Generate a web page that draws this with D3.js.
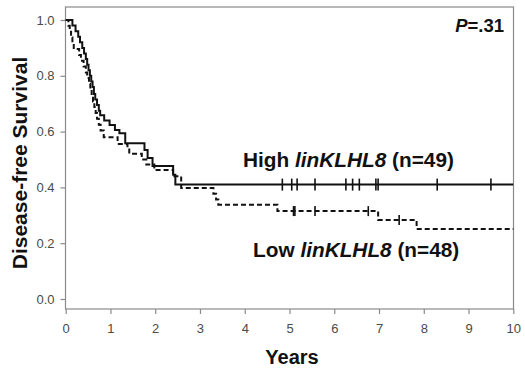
<!DOCTYPE html>
<html>
<head>
<meta charset="utf-8">
<script src="https://cdn.jsdelivr.net/npm/d3@7"></script>
<style>
  body { margin: 0; background: #fff; }
  svg { font-family: Arial, "Liberation Sans", sans-serif; }
</style>
</head>
<body>
<div id="viz"></div>
<script>
// step data (time in years, survival after the step)
const highTimes = [0, 0.15, 0.22, 0.28, 0.32, 0.37, 0.41, 0.45, 0.48, 0.51, 0.54, 0.57, 0.60, 0.63, 0.66, 0.70, 0.74, 0.77, 0.86, 0.98, 1.10, 1.20, 1.33, 1.76, 1.83, 1.94, 2.40, 2.45];
const highSurv  = [1, 0.98, 0.96, 0.94, 0.92, 0.90, 0.88, 0.86, 0.84, 0.82, 0.80, 0.78, 0.76, 0.735, 0.715, 0.695, 0.675, 0.659, 0.64, 0.624, 0.606, 0.594, 0.558, 0.534, 0.505, 0.477, 0.445, 0.41];
const highCensor = [4.84, 5.05, 5.17, 5.57, 6.26, 6.41, 6.56, 6.93, 6.98, 8.30, 9.50];

const lowTimes = [0, 0.06, 0.09, 0.12, 0.15, 0.18, 0.30, 0.34, 0.40, 0.45, 0.48, 0.52, 0.55, 0.58, 0.61, 0.64, 0.67, 0.70, 0.74, 0.78, 0.85, 1.16, 1.38, 1.42, 1.70, 1.80, 1.98, 2.40, 2.58, 3.30, 3.36, 3.41, 4.73, 6.98, 7.84];
const lowSurv  = [1, 0.979, 0.958, 0.938, 0.917, 0.896, 0.875, 0.854, 0.833, 0.812, 0.792, 0.771, 0.750, 0.729, 0.708, 0.688, 0.667, 0.646, 0.625, 0.604, 0.58, 0.556, 0.541, 0.521, 0.50, 0.482, 0.462, 0.44, 0.398, 0.377, 0.357, 0.338, 0.315, 0.283, 0.251];
const lowCensor = [5.09, 5.12, 5.57, 6.76, 7.45];

const xTicks = [0, 1, 2, 3, 4, 5, 6, 7, 8, 9, 10];
const yTicks = [0, 0.2, 0.4, 0.6, 0.8, 1.0];

const width = 525, height = 372;
const plot = { left: 65.5, right: 513.5, top: 7, bottom: 309 };

let svg = d3.select('#viz')
  .append('svg')
  .attr('width', width)
  .attr('height', height);

let x = d3.scaleLinear().domain([0, 10]).range([65.7, 513.3]);
let y = d3.scaleLinear().domain([0, 1]).range([299, 20]);

// frame
svg.append('rect')
  .attr('x', plot.left)
  .attr('y', plot.top)
  .attr('width', plot.right - plot.left)
  .attr('height', plot.bottom - plot.top)
  .attr('fill', 'none')
  .attr('stroke', '#8a8a8a')
  .attr('stroke-width', 1.2);

let yAxis = svg.append('g')
  .attr('transform', `translate(${plot.left},0)`)
  .call(d3.axisLeft(y).tickValues(yTicks).tickFormat(d3.format('.1f')).tickSize(5).tickPadding(6));
yAxis.select('.domain').remove();

let xAxis = svg.append('g')
  .attr('transform', `translate(0,${plot.bottom})`)
  .call(d3.axisBottom(x).tickValues(xTicks).tickSize(5).tickPadding(10));
xAxis.select('.domain').remove();

svg.selectAll('.tick line').attr('stroke', '#8a8a8a').attr('stroke-width', 1.2);
svg.selectAll('.tick text')
  .attr('fill', '#4a4a4a')
  .style('font-size', '13px');

// curves
function steps(times, surv) {
  let pts = times.map((t, i) => [t, surv[i]]);
  pts.push([10, surv[surv.length - 1]]);
  return pts;
}

let line = d3.line()
  .x(d => x(d[0]))
  .y(d => y(d[1]))
  .curve(d3.curveStepAfter);

svg.append('path')
  .datum(steps(lowTimes, lowSurv))
  .attr('d', line)
  .attr('fill', 'none')
  .attr('stroke', '#111')
  .attr('stroke-width', 2)
  .attr('stroke-dasharray', '5,3');

svg.append('path')
  .datum(steps(highTimes, highSurv))
  .attr('d', line)
  .attr('fill', 'none')
  .attr('stroke', '#111')
  .attr('stroke-width', 2);

function survAt(times, surv, t) {
  let i = d3.bisectRight(times, t) - 1;
  return surv[Math.max(0, i)];
}

svg.selectAll('.cens-high')
  .data(highCensor)
  .join('line')
  .attr('class', 'cens-high')
  .attr('x1', d => x(d)).attr('x2', d => x(d))
  .attr('y1', d => y(survAt(highTimes, highSurv, d)) - 6)
  .attr('y2', d => y(survAt(highTimes, highSurv, d)) + 6)
  .attr('stroke', '#111')
  .attr('stroke-width', 1.6);

svg.selectAll('.cens-low')
  .data(lowCensor)
  .join('line')
  .attr('class', 'cens-low')
  .attr('x1', d => x(d)).attr('x2', d => x(d))
  .attr('y1', d => y(survAt(lowTimes, lowSurv, d)) - 5)
  .attr('y2', d => y(survAt(lowTimes, lowSurv, d)) + 5)
  .attr('stroke', '#111')
  .attr('stroke-width', 1.6);

// labels
function groupLabel(txt, gene, n, px, py) {
  let t = svg.append('text')
    .attr('x', px).attr('y', py)
    .style('font-size', '20.8px')
    .style('font-weight', 'bold')
    .attr('fill', '#111');
  t.append('tspan').text(txt + ' ');
  t.append('tspan').style('font-style', 'italic').text(gene);
  t.append('tspan').text(` (n=${n})`);
}
groupLabel('High', 'linKLHL8', 49, 243, 167);
groupLabel('Low', 'linKLHL8', 48, 253, 257);

let p = svg.append('text')
  .attr('x', 504).attr('y', 32)
  .attr('text-anchor', 'end')
  .style('font-size', '18.5px')
  .style('font-weight', 'bold')
  .attr('fill', '#111');
p.append('tspan').style('font-style', 'italic').text('P');
p.append('tspan').text('=.31');

svg.append('text')
  .attr('x', 292).attr('y', 364)
  .attr('text-anchor', 'middle')
  .style('font-size', '20px')
  .style('font-weight', 'bold')
  .attr('fill', '#111')
  .text('Years');

svg.append('text')
  .attr('transform', 'translate(27,163) rotate(-90)')
  .attr('text-anchor', 'middle')
  .style('font-size', '21px')
  .style('font-weight', 'bold')
  .attr('fill', '#111')
  .text('Disease-free Survival');
</script>
</body>
</html>
